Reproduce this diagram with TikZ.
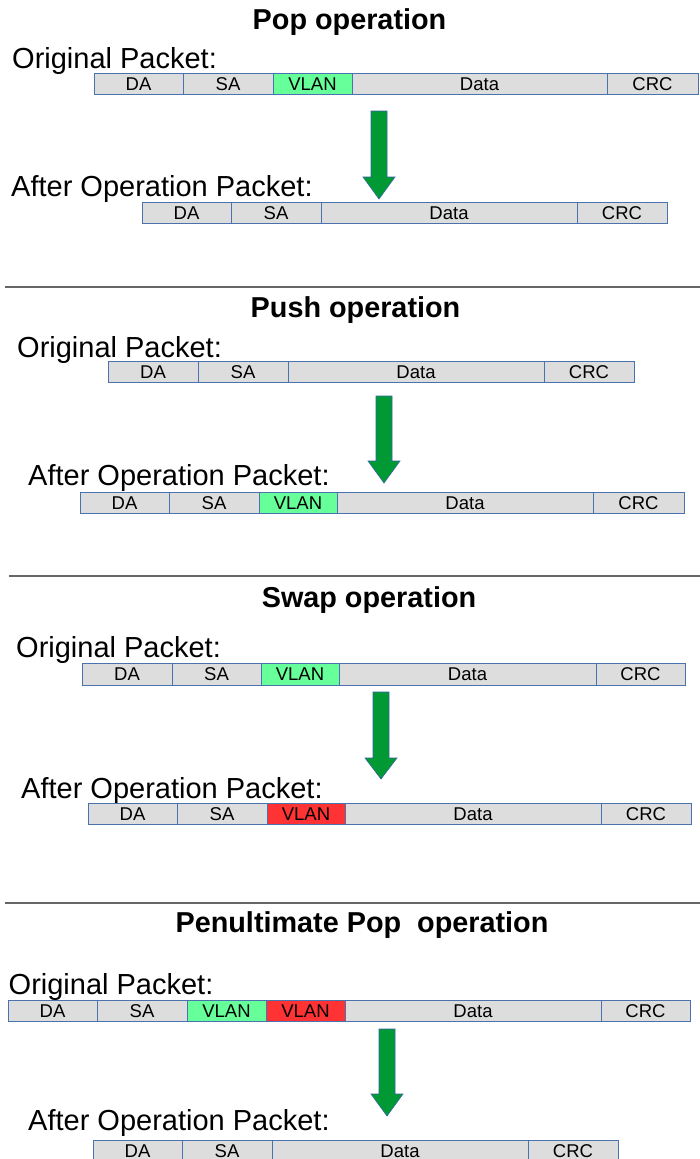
\documentclass[tikz,border=0pt]{standalone}
\usepackage{fontspec}
\setmainfont{Liberation Sans}

\definecolor{fieldgray}{HTML}{DDDDDD}
\definecolor{fieldedge}{HTML}{4A72AE}
\definecolor{vlangreen}{HTML}{66FF99}
\definecolor{vlanred}{HTML}{FF3333}
\definecolor{arrowgreen}{HTML}{009933}
\definecolor{arrowedge}{HTML}{3465A4}
\definecolor{dividergray}{HTML}{666666}

\newcommand\titlefont{\fontsize{28.8}{30}\selectfont\bfseries}
\newcommand\labelfont{\fontsize{29}{30}\selectfont}
\newcommand\fieldfont{\fontsize{18.5}{20}\selectfont}

\tikzset{
  field/.style={draw=fieldedge, line width=1pt, fill=fieldgray, inner sep=0pt,
                minimum height=21.5pt, font=\fieldfont},
  optitle/.style={anchor=base, inner sep=0pt, font=\titlefont},
  pktlabel/.style={anchor=base west, inner sep=0pt, font=\labelfont},
  blockarrow/.style={fill=arrowgreen, draw=arrowedge, line width=0.6pt},
  divider/.style={draw=dividergray, line width=1.3pt}
}

% one field of a packet: name, left x, right x, top y, text, fill colour
\newcommand\pktfield[6]{%
  \node[field, fill=#6, minimum width={(#3)-(#2)}] (#1) at ({(#2+#3)/2},{#4+10.75}) {#5};}

% a whole packet: prefix, top y, list of key/left/right/text/colour
\newcommand\packet[3]{%
  \foreach \k/\l/\r/\t/\c in {#3}{\pktfield{#1-\k}{\l}{\r}{#2}{\t}{\c}}}

% downward block arrow: centre x, top y, y where the head starts, tip y
\newcommand\oparrow[4]{%
  \draw[blockarrow] ({#1-8},#2) -- ({#1+8},#2) -- ({#1+8},#3) -- ({#1+16},#3)
    -- (#1,#4) -- ({#1-16},#3) -- ({#1-8},#3) -- cycle;}

\begin{document}
\begin{tikzpicture}[x=1pt,y=-1pt]
\useasboundingbox (0,0) rectangle (700,1159);
\fill[white] (0,0) rectangle (700,1159);

% ---------------- Pop ----------------
\node[optitle] (pop-title) at (349.5,29) {Pop operation};
\node[pktlabel] (pop-olabel) at (12,68) {Original Packet:};
\packet{pop-o}{73}{da/94/183/DA/fieldgray, sa/183/273/SA/fieldgray,
  vlan/273/352/VLAN/vlangreen, data/352/607/Data/fieldgray, crc/607/698/CRC/fieldgray}
\oparrow{379}{111}{177}{199}
\node[pktlabel] (pop-alabel) at (11,196) {After Operation Packet:};
\packet{pop-a}{202}{da/142/231/DA/fieldgray, sa/231/321/SA/fieldgray,
  data/321/577/Data/fieldgray, crc/577/667/CRC/fieldgray}

\draw[divider] (4.5,287) -- (700,287);

% ---------------- Push ----------------
\node[optitle] (push-title) at (355.5,317) {Push operation};
\node[pktlabel] (push-olabel) at (17,357) {Original Packet:};
\packet{push-o}{361}{da/108/198/DA/fieldgray, sa/198/288/SA/fieldgray,
  data/288/544/Data/fieldgray, crc/544/634/CRC/fieldgray}
\oparrow{384}{396}{461}{483}
\node[pktlabel] (push-alabel) at (28,485) {After Operation Packet:};
\packet{push-a}{492}{da/80/169/DA/fieldgray, sa/169/259/SA/fieldgray,
  vlan/259/337/VLAN/vlangreen, data/337/593/Data/fieldgray, crc/593/684/CRC/fieldgray}

\draw[divider] (9,576) -- (700,576);

% ---------------- Swap ----------------
\node[optitle] (swap-title) at (369,607) {Swap operation};
\node[pktlabel] (swap-olabel) at (16,657) {Original Packet:};
\packet{swap-o}{663.5}{da/82/172/DA/fieldgray, sa/172/261/SA/fieldgray,
  vlan/261/339/VLAN/vlangreen, data/339/596/Data/fieldgray, crc/596/685/CRC/fieldgray}
\oparrow{381}{692}{758}{779}
\node[pktlabel] (swap-alabel) at (21,798) {After Operation Packet:};
\packet{swap-a}{803}{da/88/177/DA/fieldgray, sa/177/267/SA/fieldgray,
  vlan/267/345/VLAN/vlanred, data/345/601/Data/fieldgray, crc/601/691/CRC/fieldgray}

\draw[divider] (4.5,903) -- (700,903);

% ---------------- Penultimate Pop ----------------
\node[optitle] (php-title) at (362,932) {Penultimate Pop\ \ operation};
\node[pktlabel] (php-olabel) at (8.5,994) {Original Packet:};
\packet{php-o}{1000}{da/8/97/DA/fieldgray, sa/97/187/SA/fieldgray,
  vlan/187/266/VLAN/vlangreen, vlanb/266/345/VLAN/vlanred,
  data/345/601/Data/fieldgray, crc/601/690/CRC/fieldgray}
\oparrow{387}{1029}{1094}{1116}
\node[pktlabel] (php-alabel) at (28,1130) {After Operation Packet:};
\packet{php-a}{1140}{da/93/182/DA/fieldgray, sa/182/272/SA/fieldgray,
  data/272/528/Data/fieldgray, crc/528/618/CRC/fieldgray}
\end{tikzpicture}
\end{document}
